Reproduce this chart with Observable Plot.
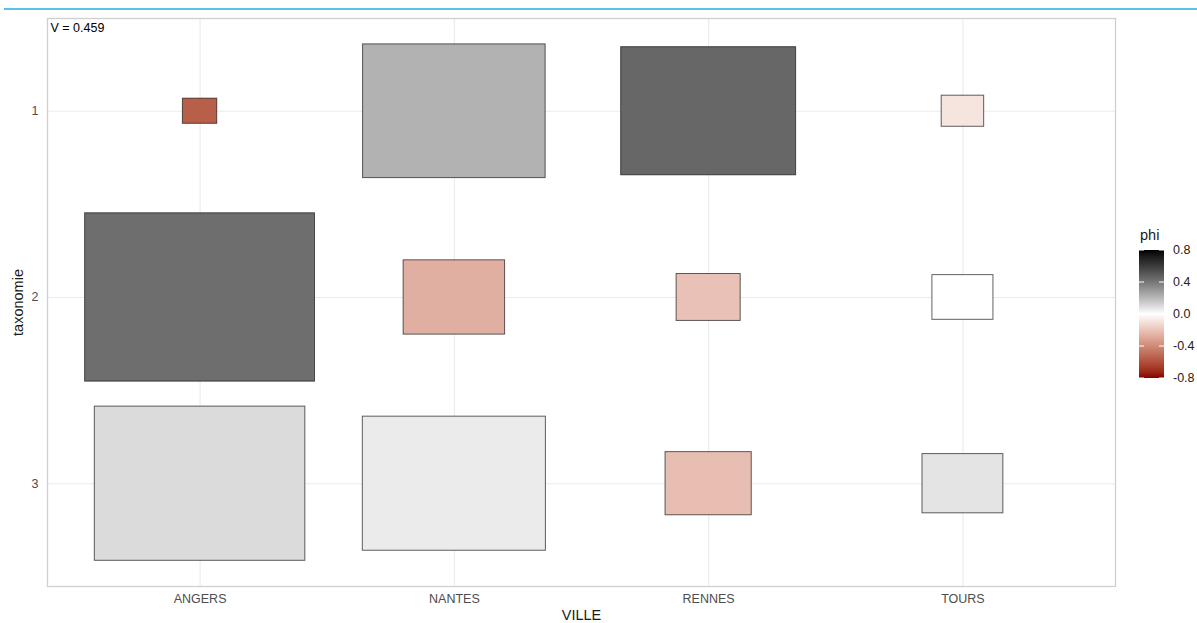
<!DOCTYPE html>
<html><head><meta charset="utf-8">
<script src="https://cdn.jsdelivr.net/npm/d3@7"></script>
<script src="https://cdn.jsdelivr.net/npm/@observablehq/plot@0.6"></script>
<style>
body{margin:0;background:#fff;font-family:"Liberation Sans",Arial,sans-serif;}
#wrap{position:relative;width:1197px;height:623px;overflow:hidden;}
#topline{position:absolute;left:4px;top:8px;width:1193px;height:2px;background:#56c3e8;}
#legend{position:absolute;left:1128px;top:220px;}
</style></head><body>
<div id="wrap"><div id="topline"></div></div>
<script>
// categories
const villes = ["ANGERS", "NANTES", "RENNES", "TOURS"];
const taxonomies = [1, 2, 3];
// phi value per cell (one array per taxonomie, in ville order)
const phiTax1 = [-0.55, 0.22, 0.45, -0.09];
const phiTax2 = [0.43, -0.27, -0.21, 0.0];
const phiTax3 = [0.10, 0.056, -0.22, 0.075];
// rectangle side per cell (in category units)
const sizeTax1 = [0.135, 0.718, 0.688, 0.167];
const sizeTax2 = [0.904, 0.399, 0.252, 0.240];
const sizeTax3 = [0.828, 0.720, 0.339, 0.318];
const vLabel = "V = 0.459";
const legendTicks = [-0.8, -0.4, 0.0, 0.4, 0.8];
const colorDomain = [-0.8, 0, 0.8];
const colorRange = ["darkred", "white", "black"];

const phis = [phiTax1, phiTax2, phiTax3];
const sizes = [sizeTax1, sizeTax2, sizeTax3];
const cells = [];
taxonomies.forEach((t, i) => {
  villes.forEach((v, j) => {
    cells.push({ville: v, xi: j + 1, tax: t, phi: phis[i][j], size: sizes[i][j]});
  });
});

const font = '"Liberation Sans", Arial, sans-serif';
const chart = Plot.plot({
  width: 1197,
  height: 623,
  marginLeft: 47,
  marginRight: 82,
  marginTop: 18,
  marginBottom: 37,
  style: {fontFamily: font, fontSize: "12.5px", background: "white", overflow: "visible"},
  x: {domain: [0.4, 4.6], label: null},
  y: {domain: [0.502, 3.552], reverse: true, label: null},
  color: {type: "linear", domain: colorDomain, range: colorRange, interpolate: d3.interpolateLab, clamp: true},
  marks: [
    Plot.gridX([1, 2, 3, 4], {stroke: "#ebebeb", strokeOpacity: 1, strokeWidth: 1.1}),
    Plot.gridY(taxonomies, {stroke: "#ebebeb", strokeOpacity: 1, strokeWidth: 1.1}),
    Plot.rect(cells, {
      x1: d => d.xi - d.size / 2,
      x2: d => d.xi + d.size / 2,
      y1: d => d.tax - d.size / 2,
      y2: d => d.tax + d.size / 2,
      fill: "phi",
      stroke: "black",
      strokeOpacity: 0.62,
      strokeWidth: 1
    }),
    Plot.frame({stroke: "#cfcfcf", strokeWidth: 1.3}),
    Plot.axisX([1, 2, 3, 4], {tickFormat: d => villes[d - 1], tickSize: 0, tickPadding: 8, label: null, fill: "#4d4d4d", fontSize: 12.5}),
    Plot.axisY(taxonomies, {tickFormat: d => String(d), tickSize: 0, tickPadding: 9, label: null, fill: "#4d4d4d", fontSize: 12.5}),
    Plot.text(["VILLE"], {frameAnchor: "bottom", dy: 29, lineAnchor: "middle", fontSize: 14.5, fill: "#1a1a1a"}),
    Plot.text(["taxonomie"], {frameAnchor: "left", dx: -29, rotate: -90, lineAnchor: "middle", textAnchor: "middle", fontSize: 14.5, fill: "#1a1a1a"}),
    Plot.text([vLabel], {frameAnchor: "top-left", dx: 3, dy: 9, lineAnchor: "middle", textAnchor: "start", fontSize: 12.5, fill: "black"})
  ]
});
document.getElementById("wrap").appendChild(chart);

// vertical colorbar legend
const lw = 69, lh = 170;
const barX = 11, barW = 25;
const ly = d3.scaleLinear().domain([-0.8, 0.8]).range([158, 30]);
const lc = d3.scaleLinear().domain(colorDomain).range(colorRange).interpolate(d3.interpolateLab);
const svg = d3.create("svg").attr("id", "legend").attr("width", lw).attr("height", lh)
  .style("font-family", font);
const grad = svg.append("defs").append("linearGradient").attr("id", "phigrad")
  .attr("x1", 0).attr("y1", 1).attr("x2", 0).attr("y2", 0);
d3.range(0, 21).forEach(k => {
  const v = -0.8 + k * 0.08;
  grad.append("stop").attr("offset", (k / 20)).attr("stop-color", lc(v));
});
svg.append("text").attr("x", barX + 1).attr("y", 20).attr("font-size", 14.5).attr("fill", "#1a1a1a").text("phi");
svg.append("rect").attr("x", barX).attr("y", ly(0.8)).attr("width", barW).attr("height", ly(-0.8) - ly(0.8))
  .attr("fill", "url(#phigrad)");
legendTicks.forEach(t => {
  const y = ly(t);
  svg.append("line").attr("x1", barX).attr("x2", barX + 5).attr("y1", y).attr("y2", y).attr("stroke", "white").attr("stroke-width", 1);
  svg.append("line").attr("x1", barX + barW - 5).attr("x2", barX + barW).attr("y1", y).attr("y2", y).attr("stroke", "white").attr("stroke-width", 1);
  svg.append("text").attr("x", barX + barW + 9).attr("y", y).attr("dy", "0.35em")
    .attr("font-size", 12.5).attr("fill", "#222").text(t.toFixed(1));
});
document.getElementById("wrap").appendChild(svg.node());
</script>
</body></html>
